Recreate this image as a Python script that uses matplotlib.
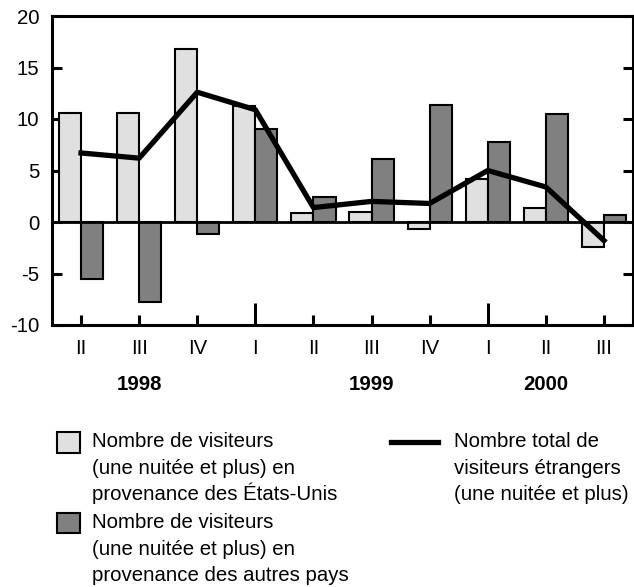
import matplotlib
matplotlib.use('Agg')
import matplotlib.pyplot as plt
from matplotlib.patches import Rectangle
from matplotlib.lines import Line2D
import numpy as np

quarters = ['II', 'III', 'IV', 'I', 'II', 'III', 'IV', 'I', 'II', 'III']
years = ['1998', '1999', '2000']
year_pos = [1, 5, 8]
us_visitors = [10.6, 10.6, 16.8, 11.3, 0.9, 1.0, -0.7, 4.2, 1.4, -2.4]
other_visitors = [-5.5, -7.8, -1.2, 9.0, 2.4, 6.1, 11.4, 7.8, 10.5, 0.7]
total_visitors = [6.7, 6.2, 12.6, 10.9, 1.4, 2.0, 1.8, 5.0, 3.4, -1.8]

legend_us = ['Nombre de visiteurs', '(une nuitée et plus) en', 'provenance des États-Unis']
legend_other = ['Nombre de visiteurs', '(une nuitée et plus) en', 'provenance des autres pays']
legend_total = ['Nombre total de', 'visiteurs étrangers', '(une nuitée et plus)']

W, H = 634, 587
plt.rcParams['font.family'] = ['Liberation Sans', 'DejaVu Sans']
fs = 14.7
light = '#e0e0e0'
dark = '#808080'


def fx(px):
	return px / W


def fy(py):
	return 1 - py / H


fig = plt.figure(figsize=(W / 100, H / 100), dpi=100)
ax = fig.add_axes([fx(52), fy(325), fx(633) - fx(52), fy(16) - fy(325)])

x = np.arange(len(quarters))
bw = 0.38
ax.bar(x - bw / 2, us_visitors, bw, color=light, edgecolor='black', linewidth=1.5, zorder=2)
ax.bar(x + bw / 2, other_visitors, bw, color=dark, edgecolor='black', linewidth=1.5, zorder=2)
ax.plot(x, total_visitors, color='black', linewidth=3.8, zorder=3)
ax.axhline(0, color='black', linewidth=2, zorder=4)

ax.set_xlim(-0.5, 9.5)
ax.set_ylim(-10, 20)
ax.set_yticks([-10, -5, 0, 5, 10, 15, 20])
ax.set_yticklabels(['-10', '-5', '0', '5', '10', '15', '20'], fontsize=fs)
ax.set_xticks(x)
ax.set_xticklabels(quarters, fontsize=fs)

for s in ax.spines.values():
	s.set_linewidth(2.2)
ax.tick_params(axis='y', direction='in', length=7, width=2.2, pad=9, left=True, right=True)
ax.tick_params(axis='x', direction='in', length=7, width=2.2, pad=10)
for i in (3, 7):
	ax.xaxis.get_major_ticks()[i].tick1line.set_markersize(16)

for yr, p in zip(years, year_pos):
	ax.text(p, -0.1926, yr, transform=ax.get_xaxis_transform(), ha='center', va='center',
			fontsize=fs, fontweight='bold')

# legend drawn by hand
fig.patches.append(Rectangle((fx(57), fy(453)), fx(80) - fx(57), fy(432) - fy(453),
							 transform=fig.transFigure, facecolor=light, edgecolor='black', linewidth=1.5))
fig.patches.append(Rectangle((fx(57), fy(533)), fx(80) - fx(57), fy(513) - fy(533),
							 transform=fig.transFigure, facecolor=dark, edgecolor='black', linewidth=1.5))
fig.lines.append(Line2D([fx(391), fx(438)], [fy(442), fy(442)], transform=fig.transFigure,
						color='black', linewidth=3.8))

step = 26.6
for lines, x0, y0 in [(legend_us, 92, 447), (legend_other, 92, 528), (legend_total, 454, 447)]:
	for k, line in enumerate(lines):
		fig.text(fx(x0), fy(y0 + k * step), line, ha='left', va='baseline', fontsize=fs)

fig.savefig('out.png', dpi=100)
